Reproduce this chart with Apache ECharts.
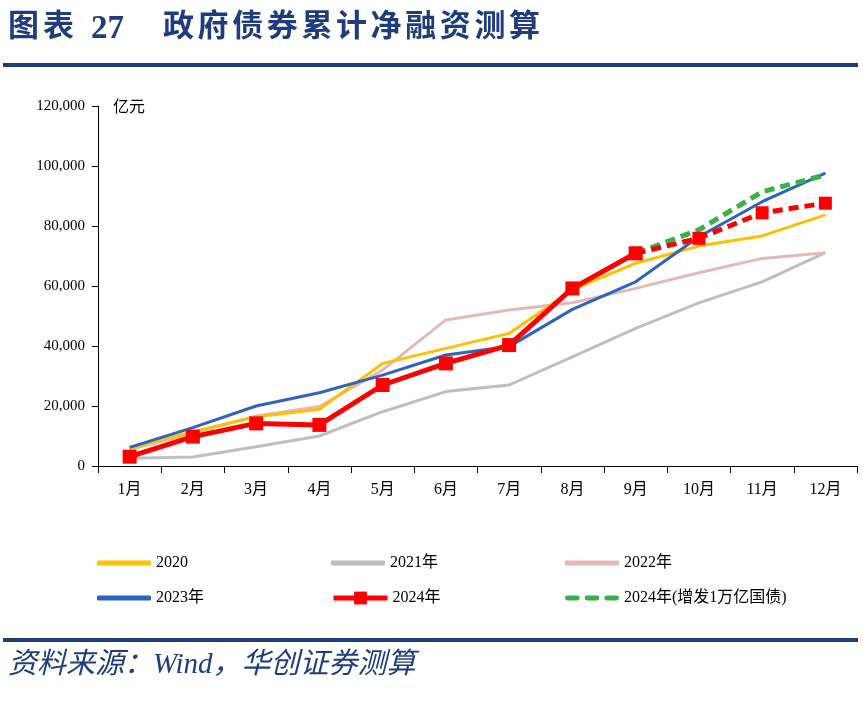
<!DOCTYPE html>
<html><head><meta charset="utf-8">
<script src="https://cdn.jsdelivr.net/npm/echarts@6/dist/echarts.min.js"></script>
<style>html,body{margin:0;padding:0;background:#fff}#c{width:863px;height:705px}</style>
</head><body><div id="c"></div>
<script>
const months = ['1月','2月','3月','4月','5月','6月','7月','8月','9月','10月','11月','12月'];
const y2020 = [5900, 11400, 16400, 18900, 34200, 39200, 44200, 58700, 67600, 73300, 76700, 83700];
const y2021 = [2600, 3000, 6400, 10000, 18100, 24800, 27000, 36400, 45900, 54400, 61400, 71100];
const y2022 = [5500, 11000, 16700, 19800, 32000, 48700, 52000, 54400, 59200, 64400, 69200, 71100];
const y2023 = [6200, 12800, 20000, 24400, 30300, 37000, 39800, 52200, 61400, 76400, 88100, 97600];
const y2024 = [3100, 9800, 14200, 13700, 27000, 34200, 40300, 59200, 70900, null, null, null];
const y2024Proj = [null, null, null, null, null, null, null, null, 70900, 75900, 84400, 87600];
const y2024Extra = [null, null, null, null, null, null, null, null, 70900, 78700, 91400, 97000];
const titleHead = ['图', '表'];
const titleNum = '27';
const titleMain = '政府债券累计净融资测算';
const sourceText = '资料来源：Wind，华创证券测算';

const SERIF = '"Liberation Serif","Times New Roman","Noto Sans CJK SC",serif';
const BLUE = '#1F3C7E';
const chart = echarts.init(document.getElementById('c'), null, {renderer:'canvas'});

const graphics = [];
titleHead.forEach((ch, i) => graphics.push({type:'text', left:8 + i*35, top:9,
  style:{text:ch, font:'bold 31px "Noto Sans CJK SC",serif', fill:BLUE}}));
graphics.push({type:'text', left:91, top:13, style:{text:titleNum, font:'bold 33px "Liberation Serif",serif', fill:BLUE}});
titleMain.split('').forEach((ch, i) => graphics.push({type:'text', left:163 + i*34.6, top:9,
  style:{text:ch, font:'bold 31px "Noto Sans CJK SC",serif', fill:BLUE}}));
graphics.push(
  {type:'rect', shape:{x:3, y:63, width:855, height:4}, style:{fill:BLUE}},
  {type:'rect', shape:{x:3, y:638, width:855, height:4}, style:{fill:BLUE}},
  {type:'text', left:8, top:651, style:{text:sourceText, font:'italic 29px "Liberation Serif","Noto Sans CJK SC",serif', fill:BLUE}},
  {type:'text', left:113, top:98, style:{text:'亿元', font:'16px "Noto Sans CJK SC",serif', fill:'#000'}}
);

const DASH_ICON = 'path://M2,0h10a2,2 0 0 1 0,5h-10a2,2 0 0 1 0,-5z M22,0h10a2,2 0 0 1 0,5h-10a2,2 0 0 1 0,-5z M42,0h10a2,2 0 0 1 0,5h-10a2,2 0 0 1 0,-5z';
function leg(name, left, center, icon, h) {
  const d = icon ? {name:name, icon:icon} : {name:name};
  const ih = h || 5;
  return {data:[d], left:left, top:center - Math.max(ih, 18)/2, padding:0, itemWidth:54, itemHeight:ih, itemGap:4,
    lineStyle:{width:5},
    textStyle:{fontFamily:SERIF, fontSize:16, color:'#000', lineHeight:18, padding:[0,0,0,0]}};
}

chart.setOption({
  animation:false,
  backgroundColor:'#fff',
  graphic:graphics,
  legend:[
    leg('2020', 97, 563, 'roundRect'), leg('2021年', 331, 563, 'roundRect'), leg('2022年', 565, 563, 'roundRect'),
    leg('2023年', 97, 598, 'roundRect'), leg('2024年', 331, 598, null, 16), leg('2024年(增发1万亿国债)', 565, 598, DASH_ICON)
  ],
  grid:{left:98, right:6, top:106, bottom:239, containLabel:false},
  xAxis:{type:'category', data:months, boundaryGap:true,
    axisLine:{lineStyle:{color:'#000', width:1}},
    axisTick:{show:true, length:7, lineStyle:{color:'#000'}},
    axisLabel:{fontFamily:SERIF, fontSize:16, color:'#000', margin:16}},
  yAxis:{type:'value', min:0, max:120000, interval:20000,
    axisLine:{show:true, lineStyle:{color:'#000'}},
    axisTick:{show:true, length:6, lineStyle:{color:'#000'}},
    splitLine:{show:false},
    axisLabel:{fontFamily:SERIF, fontSize:15, color:'#000', margin:13,
      formatter:v=>v.toLocaleString('en-US')}},
  series:[
    {name:'2021年', type:'line', data:y2021, symbol:'none', lineStyle:{color:'#BFBFBF', width:3}, itemStyle:{color:'#BFBFBF'}},
    {name:'2022年', type:'line', data:y2022, symbol:'none', lineStyle:{color:'#E6B9B8', width:3}, itemStyle:{color:'#E6B9B8'}},
    {name:'2020', type:'line', data:y2020, symbol:'none', lineStyle:{color:'#FFC000', width:3}, itemStyle:{color:'#FFC000'}},
    {name:'2023年', type:'line', data:y2023, symbol:'none', lineStyle:{color:'#2E63BF', width:3}, itemStyle:{color:'#2E63BF'}},
    {name:'2024年(增发1万亿国债)', type:'line', data:y2024Extra, symbol:'none', lineStyle:{color:'#3BAF4A', width:5, type:[10,6]}, itemStyle:{color:'#3BAF4A'}},
    {name:'2024年预测', type:'line', data:y2024Proj, symbol:'rect', symbolSize:13, lineStyle:{color:'#FF0000', width:5, type:[10,6]}, itemStyle:{color:'#FF0000'}},
    {name:'2024年', type:'line', data:y2024, symbol:'rect', symbolSize:14, lineStyle:{color:'#FF0000', width:5}, itemStyle:{color:'#FF0000'}}
  ]
});
</script></body></html>
